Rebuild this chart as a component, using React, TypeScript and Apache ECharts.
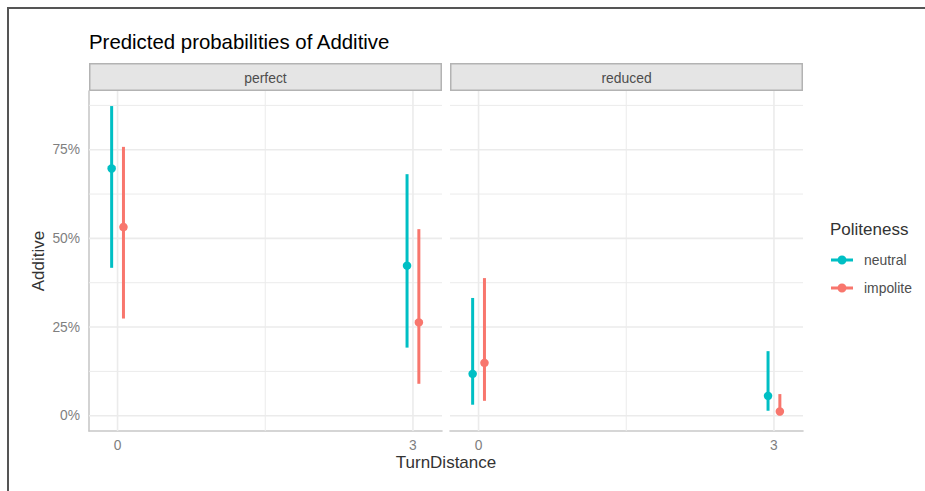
import React, { useEffect, useRef } from "react";
import * as echarts from "echarts";

const turnDistance = [0, 3];
const facets = ["perfect", "reduced"];
const groups = ["neutral", "impolite"];
const groupColors = ["#00BFC4", "#F8766D"];

const perfectNeutralEst = [0.697, 0.423];
const perfectNeutralLow = [0.417, 0.192];
const perfectNeutralHigh = [0.873, 0.681];
const perfectImpoliteEst = [0.532, 0.263];
const perfectImpoliteLow = [0.274, 0.09];
const perfectImpoliteHigh = [0.758, 0.526];
const reducedNeutralEst = [0.118, 0.056];
const reducedNeutralLow = [0.031, 0.014];
const reducedNeutralHigh = [0.332, 0.182];
const reducedImpoliteEst = [0.149, 0.012];
const reducedImpoliteLow = [0.042, 0.002];
const reducedImpoliteHigh = [0.388, 0.061];

const yMajorTicks = [0, 0.25, 0.5, 0.75];
const yMinorTicks = [0.125, 0.375, 0.625, 0.875];
const xMajorTicks = [0, 3];
const xMinorTicks = [1.5];

const FONT = "'Liberation Sans', Arial, Helvetica, sans-serif";
const DODGE = [-0.06, 0.06];

const facetData = [
  [
    { est: perfectNeutralEst, low: perfectNeutralLow, high: perfectNeutralHigh },
    { est: perfectImpoliteEst, low: perfectImpoliteLow, high: perfectImpoliteHigh },
  ],
  [
    { est: reducedNeutralEst, low: reducedNeutralLow, high: reducedNeutralHigh },
    { est: reducedImpoliteEst, low: reducedImpoliteLow, high: reducedImpoliteHigh },
  ],
];

const PANEL_LEFT = [89, 450];
const PANEL_W = 353;
const PANEL_TOP = 91;
const PANEL_H = 340;

function gridLines(gi: number, vals: number[], dir: "h" | "v", width: number) {
  return {
    type: "custom",
    xAxisIndex: gi,
    yAxisIndex: gi,
    silent: true,
    z: 1,
    data: vals.map((v) => (dir === "h" ? [0, v] : [v, 0])),
    encode: { x: 0, y: 1 },
    renderItem: (params: any, api: any) => {
      const cs = params.coordSys;
      if (dir === "h") {
        const y = api.coord([0, api.value(1)])[1];
        return {
          type: "line",
          shape: { x1: cs.x, y1: y, x2: cs.x + cs.width, y2: y },
          style: { stroke: "#ebebeb", lineWidth: width },
        };
      }
      const x = api.coord([api.value(0), 0])[0];
      return {
        type: "line",
        shape: { x1: x, y1: cs.y, x2: x, y2: cs.y + cs.height },
        style: { stroke: "#ebebeb", lineWidth: width },
      };
    },
  };
}

export default function App() {
  const ref = useRef<HTMLDivElement>(null);
  useEffect(() => {
    if (!ref.current) return;
    const chart = echarts.init(ref.current, null, { renderer: "svg" });
    const series: any[] = [];
    facets.forEach((_, gi) => {
      series.push(gridLines(gi, yMinorTicks, "h", 1));
      series.push(gridLines(gi, yMajorTicks, "h", 1.6));
      series.push(gridLines(gi, xMinorTicks, "v", 1));
      series.push(gridLines(gi, xMajorTicks, "v", 1.6));
      groups.forEach((g, k) => {
        const d = facetData[gi][k];
        series.push({
          type: "custom",
          name: g + " CI",
          xAxisIndex: gi,
          yAxisIndex: gi,
          silent: true,
          z: 3,
          data: turnDistance.map((t, i) => [t + DODGE[k], d.low[i], d.high[i]]),
          encode: { x: 0, y: [1, 2] },
          renderItem: (params: any, api: any) => {
            const p1 = api.coord([api.value(0), api.value(1)]);
            const p2 = api.coord([api.value(0), api.value(2)]);
            return {
              type: "line",
              shape: { x1: p1[0], y1: p1[1], x2: p2[0], y2: p2[1] },
              style: { stroke: groupColors[k], lineWidth: 3 },
            };
          },
        });
        series.push({
          type: "scatter",
          name: g,
          xAxisIndex: gi,
          yAxisIndex: gi,
          z: 4,
          symbol: "circle",
          symbolSize: 8.5,
          itemStyle: { color: groupColors[k], opacity: 1 },
          data: turnDistance.map((t, i) => [t + DODGE[k], d.est[i]]),
        });
      });
    });

    const legendIcon =
      "path://M0,3 L22,3 L22,6 L0,6 Z M11,0 A4.5,4.5 0 1,1 11,9 A4.5,4.5 0 1,1 11,0 Z";

    const option: any = {
      animation: false,
      backgroundColor: "#ffffff",
      textStyle: { fontFamily: FONT },
      title: [
        {
          text: "Predicted probabilities of Additive",
          left: 89,
          top: 32,
          padding: 0,
          textStyle: { fontSize: 20.4, fontWeight: "normal", color: "#000000", fontFamily: FONT },
        },
        {
          text: "Politeness",
          left: 830,
          top: 221,
          padding: 0,
          textStyle: { fontSize: 17, fontWeight: "normal", color: "#333333", fontFamily: FONT },
        },
      ],
      legend: {
        data: groups,
        orient: "vertical",
        left: 831,
        top: 252,
        padding: 0,
        itemWidth: 22,
        itemHeight: 9,
        itemGap: 12,
        icon: legendIcon,
        selectedMode: false,
        textStyle: { fontSize: 13.9, color: "#4d4d4d", fontFamily: FONT, lineHeight: 16, padding: [0, 0, 0, 6] },
      },
      grid: facets.map((_, gi) => ({
        left: PANEL_LEFT[gi],
        top: PANEL_TOP,
        width: PANEL_W,
        height: PANEL_H,
        containLabel: false,
      })),
      xAxis: facets.map((_, gi) => ({
        type: "value",
        gridIndex: gi,
        min: -0.29,
        max: 3.295,
        axisLine: { show: true, onZero: false, lineStyle: { color: "#c8c8c8", width: 1.6 } },
        axisTick: { show: false },
        splitLine: { show: false },
        axisLabel: {
          customValues: xMajorTicks,
          color: "#7f7f7f",
          fontSize: 13.8,
          fontFamily: FONT,
          margin: 7,
          formatter: (v: number) => String(v),
        },
      })),
      yAxis: facets.map((_, gi) => ({
        type: "value",
        gridIndex: gi,
        min: -0.0431,
        max: 0.9155,
        name: gi === 0 ? "Additive" : "",
        nameLocation: "middle",
        nameGap: 42,
        nameRotate: 90,
        nameTextStyle: { fontSize: 17, color: "#333333", fontFamily: FONT },
        axisLine: { show: gi === 0, onZero: false, lineStyle: { color: "#c8c8c8", width: 1.6 } },
        axisTick: { show: false },
        splitLine: { show: false },
        axisLabel:
          gi === 0
            ? {
                customValues: yMajorTicks,
                color: "#7f7f7f",
                fontSize: 13.8,
                fontFamily: FONT,
                margin: 9,
                formatter: (v: number) => Math.round(v * 100) + "%",
              }
            : { show: false },
      })),
      graphic: [
        {
          type: "rect",
          silent: true,
          z: 100,
          shape: { x: 8, y: 8, width: 1200, height: 1200 },
          style: { fill: "none", stroke: "#555555", lineWidth: 2 },
        },
        ...facets.flatMap((f, gi) => [
          {
            type: "rect",
            silent: true,
            shape: { x: PANEL_LEFT[gi] + 0.75, y: 63.75, width: PANEL_W - 1.5, height: 26.5 },
            style: { fill: "#e5e5e5", stroke: "#b3b3b3", lineWidth: 1.5 },
          },
          {
            type: "text",
            silent: true,
            x: PANEL_LEFT[gi] + PANEL_W / 2,
            y: 77.5,
            style: {
              text: f,
              align: "center",
              verticalAlign: "middle",
              fontSize: 13.9,
              fontFamily: FONT,
              fill: "#4d4d4d",
            },
          },
        ]),
        {
          type: "text",
          silent: true,
          x: (PANEL_LEFT[0] + PANEL_LEFT[1] + PANEL_W) / 2,
          y: 462.5,
          style: {
            text: "TurnDistance",
            align: "center",
            verticalAlign: "middle",
            fontSize: 17,
            fontFamily: FONT,
            fill: "#333333",
          },
        },
      ],
      series,
    };
    chart.setOption(option);
    return () => chart.dispose();
  }, []);
  return (
    <div style={{ position: "absolute", left: 0, top: 0, width: 925, height: 491, overflow: "hidden" }}>
      <div ref={ref} style={{ width: 925, height: 491 }} />
    </div>
  );
}
